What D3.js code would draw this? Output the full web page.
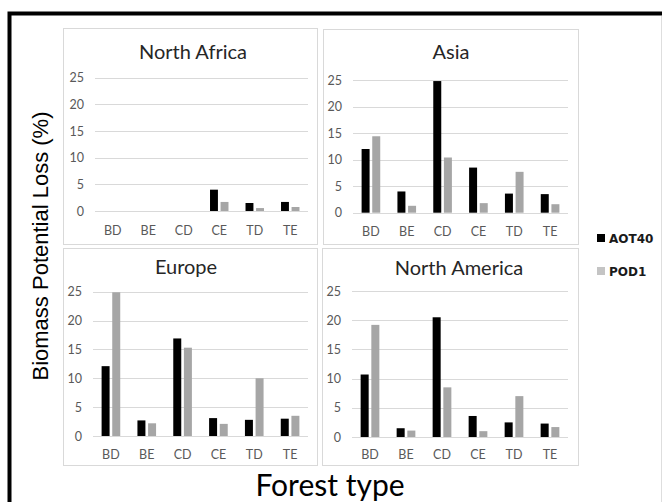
<!DOCTYPE html>
<html>
<head>
<meta charset="utf-8">
<script src="https://cdn.jsdelivr.net/npm/d3@7/dist/d3.min.js"></script>
<style>
  html, body { margin: 0; padding: 0; background: #fff; }
  svg { display: block; }
</style>
</head>
<body>
<svg id="chart" width="662" height="502"></svg>
<script>
// Forest types on the x axis of every panel
const categories = ["BD", "BE", "CD", "CE", "TD", "TE"];
const seriesNames = ["AOT40", "POD1"];
const regions = ["North Africa", "Asia", "Europe", "North America"];
const yTicks = [0, 5, 10, 15, 20, 25];

// Biomass potential loss (%) per forest type
const northAfricaAOT40 = [0, 0, 0, 4.0, 1.5, 1.7];
const northAfricaPOD1 = [0, 0, 0, 1.7, 0.55, 0.75];
const asiaAOT40 = [12.0, 4.0, 24.8, 8.5, 3.6, 3.5];
const asiaPOD1 = [14.4, 1.3, 10.4, 1.8, 7.7, 1.6];
const europeAOT40 = [12.1, 2.7, 16.9, 3.1, 2.8, 3.0];
const europePOD1 = [24.9, 2.2, 15.3, 2.1, 10.0, 3.5];
const northAmericaAOT40 = [10.7, 1.5, 20.5, 3.6, 2.5, 2.3];
const northAmericaPOD1 = [19.2, 1.1, 8.5, 1.0, 7.0, 1.7];

const regionSeries = [
  [northAfricaAOT40, northAfricaPOD1],
  [asiaAOT40, asiaPOD1],
  [europeAOT40, europePOD1],
  [northAmericaAOT40, northAmericaPOD1]
];

const barColors = ["#000000", "#a6a6a6"];
const legendColors = ["#000000", "#c4c4c4"];

// Panel boxes and plot areas
const layout = [
  { x0: 63,  y0: 28,  x1: 317, y1: 244, px0: 95,  px1: 308, py0: 211,   pyTop: 77.7,  titleX: 193, titleY: 59,  catY: 235 },
  { x0: 323, y0: 29,  x1: 578, y1: 244, px0: 353, px1: 568, py0: 212.7, pyTop: 80,    titleX: 451, titleY: 59,  catY: 236 },
  { x0: 63,  y0: 248, x1: 317, y1: 465, px0: 93,  px1: 308, py0: 436,   pyTop: 291.7, titleX: 186, titleY: 274, catY: 459 },
  { x0: 322, y0: 248, x1: 578, y1: 465, px0: 352, px1: 568, py0: 437,   pyTop: 291,   titleX: 459, titleY: 275, catY: 459 }
];

const svg = d3.select("#chart");
svg.append("rect").attr("width", 662).attr("height", 502).attr("fill", "#fff");

// Outer frame
svg.append("path")
  .attr("d", "M9.5,502 L9.5,13.5 L662,13.5")
  .attr("fill", "none").attr("stroke", "#000").attr("stroke-width", 4);
svg.append("line")
  .attr("x1", 661.5).attr("x2", 661.5).attr("y1", 16).attr("y2", 502)
  .attr("stroke", "#dedede").attr("stroke-width", 1);

const labelFont = "Lato, 'Open Sans', sans-serif";

regions.forEach((name, i) => {
  const L = layout[i];
  const g = svg.append("g");

  g.append("rect")
    .attr("x", L.x0 + 0.5).attr("y", L.y0 + 0.5)
    .attr("width", L.x1 - L.x0).attr("height", L.y1 - L.y0)
    .attr("fill", "#fff").attr("stroke", "#d9d9d9").attr("stroke-width", 1);

  const x = d3.scaleBand().domain(categories).range([L.px0, L.px1]).padding(0);
  const y = d3.scaleLinear().domain([0, 25]).range([L.py0, L.pyTop]);
  const bw = x.bandwidth();
  const xs = d3.scaleBand().domain(seriesNames)
    .range([bw * 0.24, bw * 0.76]).paddingInner(0.25);

  // Horizontal gridlines
  g.append("g").selectAll("line").data(yTicks).join("line")
    .attr("x1", L.px0).attr("x2", L.px1)
    .attr("y1", d => Math.round(y(d)) + 0.5).attr("y2", d => Math.round(y(d)) + 0.5)
    .attr("stroke", "#d9d9d9").attr("stroke-width", 1);

  // Y axis tick labels
  const yAxis = d3.axisLeft(y).tickValues(yTicks).tickSize(0).tickPadding(11);
  const ya = g.append("g").attr("transform", `translate(${L.px0},0)`).call(yAxis);
  ya.select(".domain").remove();
  ya.selectAll("text")
    .attr("font-family", labelFont).attr("font-size", 12.5).attr("fill", "#595959");

  // Category labels
  const xAxis = d3.axisBottom(x).tickSize(0).tickPadding(0);
  const xa = g.append("g").attr("transform", `translate(0,${L.catY})`).call(xAxis);
  xa.select(".domain").remove();
  xa.selectAll("text")
    .attr("dy", 0).attr("y", 0)
    .attr("font-family", labelFont).attr("font-size", 12.5).attr("fill", "#595959");

  // Bars
  const rows = categories.map((c, ci) => ({ c, vals: seriesNames.map((s, si) => ({ s, v: regionSeries[i][si][ci] })) }));
  g.append("g").selectAll("g").data(rows).join("g")
    .attr("transform", d => `translate(${x(d.c)},0)`)
    .selectAll("rect").data(d => d.vals).join("rect")
    .attr("x", d => xs(d.s))
    .attr("width", xs.bandwidth())
    .attr("y", d => y(d.v))
    .attr("height", d => y(0) - y(d.v))
    .attr("fill", d => barColors[seriesNames.indexOf(d.s)]);

  // Panel title
  g.append("text")
    .attr("x", L.titleX).attr("y", L.titleY)
    .attr("text-anchor", "middle")
    .attr("font-family", labelFont).attr("font-size", 20).attr("fill", "#262626")
    .text(name);
});

// Legend
const legend = svg.append("g");
seriesNames.forEach((s, i) => {
  const ly = 234 + i * 33;
  legend.append("rect").attr("x", 597).attr("y", ly).attr("width", 8).attr("height", 8)
    .attr("fill", legendColors[i]);
  legend.append("text").attr("x", 609).attr("y", ly + 8.5)
    .attr("font-family", "'DejaVu Sans', sans-serif").attr("font-weight", "bold")
    .attr("font-size", 12).attr("fill", "#1a1a1a").text(s);
});

// Axis titles
svg.append("text")
  .attr("transform", "translate(48,246) rotate(-90)")
  .attr("text-anchor", "middle")
  .attr("font-family", "'Liberation Sans', Arial, sans-serif")
  .attr("font-size", 22).attr("fill", "#000")
  .text("Biomass Potential Loss (%)");

svg.append("text")
  .attr("x", 330).attr("y", 496)
  .attr("text-anchor", "middle")
  .attr("font-family", labelFont)
  .attr("font-size", 30).attr("fill", "#000")
  .text("Forest type");
</script>
</body>
</html>
